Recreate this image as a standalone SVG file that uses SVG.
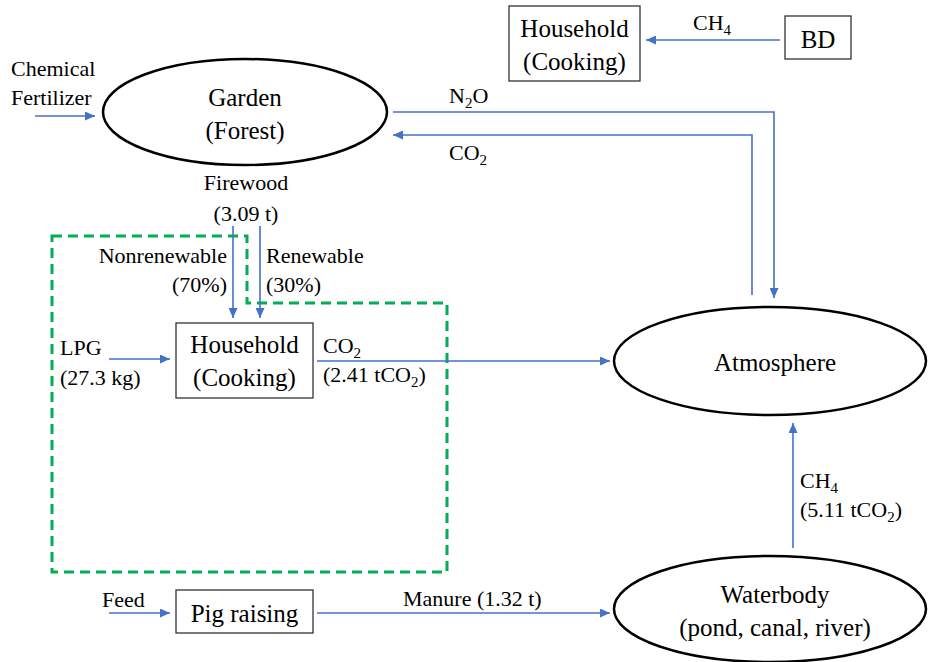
<svg xmlns="http://www.w3.org/2000/svg" width="928" height="662" viewBox="0 0 928 662">
<style>
.t text{font-family:"Liberation Serif",Tinos,"Times New Roman",Times,"DejaVu Serif",serif;fill:#000}
.m{font-size:25px}
.s{font-size:22px}
.sub{font-size:15px}
.ell{fill:#fff;stroke:#000;stroke-width:2.5}
.box{fill:#fff;stroke:#333;stroke-width:1.3}
.c{fill:none;stroke:#4472C4;stroke-width:1.6}
.dash{fill:none;stroke:#00B050;stroke-width:3;stroke-dasharray:10,6}
</style>
<defs>
<marker id="ah" markerUnits="userSpaceOnUse" markerWidth="10" markerHeight="9" refX="10" refY="4.5" orient="auto">
<path d="M0,0 L10,4.5 L0,9 z" fill="#4472C4"/>
</marker>
</defs>
<g class="t" font-family="'Liberation Serif', Tinos, 'Times New Roman', Times, 'DejaVu Serif', serif">
<path id="boundary" class="dash" d="M52,236 H247 V303 H447 V572 H52 Z"/>
<g id="garden">
<ellipse class="ell" cx="245" cy="112" rx="142" ry="53"/>
<text class="m" x="245" y="106" text-anchor="middle">Garden</text>
<text class="m" x="245" y="139" text-anchor="middle">(Forest)</text>
</g>
<g id="household-top">
<rect class="box" x="509" y="6" width="131" height="75"/>
<text class="m" x="574.5" y="37" text-anchor="middle">Household</text>
<text class="m" x="574.5" y="70" text-anchor="middle">(Cooking)</text>
</g>
<g id="bd">
<rect class="box" x="785" y="16" width="66" height="43"/>
<text class="m" x="818" y="48" text-anchor="middle">BD</text>
</g>
<g id="household">
<rect class="box" x="176" y="323" width="137" height="75"/>
<text class="m" x="244.5" y="353" text-anchor="middle">Household</text>
<text class="m" x="244.5" y="386" text-anchor="middle">(Cooking)</text>
</g>
<g id="pig">
<rect class="box" x="176" y="590" width="137" height="43"/>
<text class="m" x="244.5" y="622" text-anchor="middle">Pig raising</text>
</g>
<g id="atmosphere">
<ellipse class="ell" cx="770" cy="361" rx="156" ry="54"/>
<text class="m" x="775" y="371" text-anchor="middle">Atmosphere</text>
</g>
<g id="waterbody">
<ellipse class="ell" cx="770" cy="609" rx="156" ry="53"/>
<text class="m" x="775" y="603" text-anchor="middle">Waterbody</text>
<text class="m" x="775" y="636" text-anchor="middle">(pond, canal, river)</text>
</g>
<g id="connectors">
<line class="c" x1="35" y1="116" x2="95" y2="116" marker-end="url(#ah)"/>
<line class="c" x1="780" y1="40" x2="646" y2="40" marker-end="url(#ah)"/>
<polyline class="c" points="393,112 774,112 774,298" marker-end="url(#ah)"/>
<polyline class="c" points="752,295 752,135 393,135" marker-end="url(#ah)"/>
<line class="c" x1="233" y1="226" x2="233" y2="318" marker-end="url(#ah)"/>
<line class="c" x1="260" y1="226" x2="260" y2="318" marker-end="url(#ah)"/>
<line class="c" x1="109" y1="359" x2="170" y2="359" marker-end="url(#ah)"/>
<line class="c" x1="317" y1="361" x2="610" y2="361" marker-end="url(#ah)"/>
<line class="c" x1="793" y1="548" x2="793" y2="423" marker-end="url(#ah)"/>
<line class="c" x1="109" y1="613" x2="170" y2="613" marker-end="url(#ah)"/>
<line class="c" x1="317" y1="613" x2="610" y2="613" marker-end="url(#ah)"/>
</g>
<g id="labels">
<text class="s" x="11" y="76">Chemical</text>
<text class="s" x="11" y="105">Fertilizer</text>
<text class="s" x="693" y="30">CH<tspan class="sub" dy="5">4</tspan></text>
<text class="s" x="449" y="103">N<tspan class="sub" dy="5">2</tspan><tspan dy="-5">O</tspan></text>
<text class="s" x="449" y="160">CO<tspan class="sub" dy="5">2</tspan></text>
<text class="s" x="246" y="190" text-anchor="middle">Firewood</text>
<text class="s" x="246" y="221" text-anchor="middle">(3.09 t)</text>
<text class="s" x="227" y="263" text-anchor="end">Nonrenewable</text>
<text class="s" x="227" y="292" text-anchor="end">(70%)</text>
<text class="s" x="266" y="263">Renewable</text>
<text class="s" x="266" y="292">(30%)</text>
<text class="s" x="60" y="355">LPG</text>
<text class="s" x="60" y="385">(27.3 kg)</text>
<text class="s" x="323" y="353">CO<tspan class="sub" dy="5">2</tspan></text>
<text class="s" x="323" y="382">(2.41 tCO<tspan class="sub" dy="5">2</tspan><tspan dy="-5">)</tspan></text>
<text class="s" x="800" y="488">CH<tspan class="sub" dy="5">4</tspan></text>
<text class="s" x="800" y="517">(5.11 tCO<tspan class="sub" dy="5">2</tspan><tspan dy="-5">)</tspan></text>
<text class="s" x="102" y="607">Feed</text>
<text class="s" x="403" y="606">Manure (1.32 t)</text>
</g>
</g>
</svg>
